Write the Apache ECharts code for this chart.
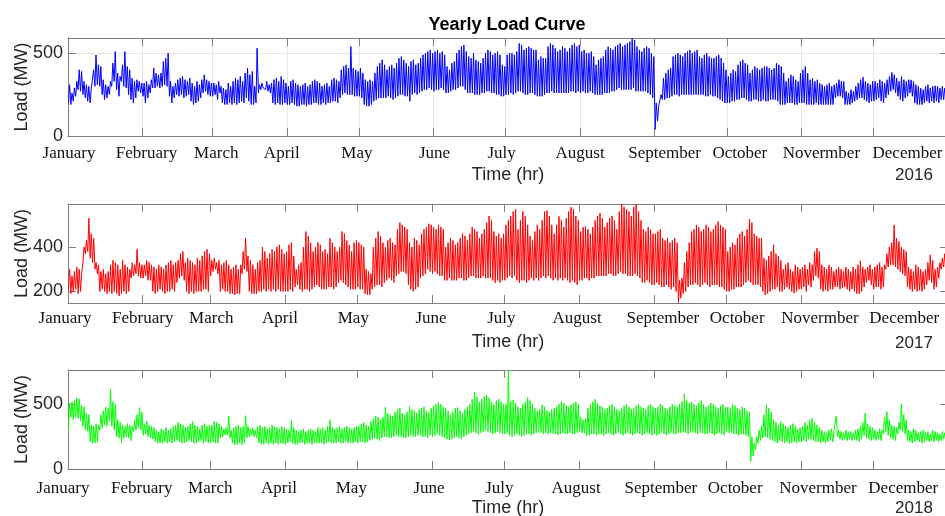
<!DOCTYPE html>
<html><head><meta charset="utf-8">
<script src="https://cdn.jsdelivr.net/npm/echarts@6/dist/echarts.min.js"></script>
<style>html,body{margin:0;padding:0;background:#fff}#c{width:945px;height:516px}</style>
</head><body><div id="c"></div>
<script>
// ---------------- DATA (daily peak / daily minimum load, MW) ----------------
const monthNames = ['January','February','March','April','May','June','July','August','September','October','Novermber','December'];
const yearLabels = ['2016','2017','2018'];
const monthDays2016 = [31,29,31,30,31,30,31,31,30,31,30,31];
const monthDays2017 = [31,28,31,30,31,30,31,31,30,31,30,31];
const monthDays2018 = [31,28,31,30,31,30,31,31,30,31,30,31];

const peak2016 = [
 310,260,290,330,400, 390,330,310,300,280, 400,490,430,420,340, 310,300,330,440,510, 380,360,430,510,420, 400,350,330,340,330, 320,
 320,330,310,340,410, 380,370,380,450,470, 500,330,300,320,340, 350,360,340,330,350, 320,300,330,310,340, 370,340,330,320,
 320,310,330,300,290, 280,320,300,330,350, 340,360,330,380,410, 370,390,300,530,310, 320,300,330,310,320, 340,350,330,360,340, 320,
 300,330,340,320,310, 300,310,320,300,310, 330,340,330,320,300, 310,320,300,340,350, 340,330,400,420,430, 410,540,410,400,390,
 410,380,340,330,340, 330,380,420,440,460, 430,400,420,430,410, 440,470,480,460,440, 420,450,460,430,440, 470,490,500,510,520, 500,
 510,520,500,510,490, 420,400,440,450,500, 520,540,550,510,480, 470,500,460,450,440, 470,500,520,510,490, 500,510,490,430,420,
 490,500,500,490,510, 560,550,520,530,540, 530,520,520,460,480, 470,470,540,560,550, 530,510,520,540,530, 510,530,550,560,540, 550,
 510,520,500,500,510, 480,430,460,470,480, 520,540,530,520,540, 550,560,540,550,560, 570,590,580,540,520, 510,530,540,530,500, 480,
 200,180,250,350,380, 400,410,480,490,500, 490,480,500,510,520, 500,510,520,480,470, 490,500,480,470,470, 480,490,470,440,400,
 360,380,400,390,430, 450,460,440,430,380, 400,420,410,400,410, 420,420,410,400,410, 440,430,420,380,330, 350,370,360,340,330, 380,
 400,420,380,340,350, 330,340,320,310,300, 310,320,300,310,320, 340,330,330,270,260, 280,270,300,320,340, 355,330,320,310,330,
 330,320,340,330,320, 340,360,384,370,350, 330,360,340,330,340, 339,330,310,300,290, 280,300,310,290,300, 303,300,290,300,290, 300
];
const low2016 = [
 200,190,210,240,280, 270,250,230,210,200, 280,300,310,300,250, 220,230,250,300,330, 280,240,330,300,290, 250,220,200,230,270, 260,
 240,200,230,260,290, 290,300,290,300,310, 300,240,200,230,250, 240,250,230,240,250, 210,190,200,210,230, 260,270,250,240,
 240,250,220,260,200, 190,190,200,190,200, 190,200,210,200,230, 210,190,190,200,260, 280,290,280,270,260, 200,190,200,190,190, 200,
 190,190,200,190,180, 180,190,190,180,190, 190,200,200,190,190, 200,190,200,200,210, 210,200,230,250,260, 250,250,250,240,240,
 240,230,190,180,180, 190,210,220,230,230, 230,230,240,230,220, 230,240,250,250,240, 240,210,250,260,250, 260,270,280,280,290, 280,
 270,280,280,290,280, 260,260,270,280,280, 290,300,300,280,260, 260,260,250,250,250, 260,260,270,270,260, 260,250,250,240,240,
 250,250,260,250,260, 270,270,260,250,250, 260,260,250,240,240, 240,250,260,260,270, 260,260,260,260,260, 260,260,270,270,260, 270,
 260,270,260,260,270, 260,250,250,250,250, 260,260,260,270,270, 280,290,280,280,280, 280,280,290,270,270, 270,270,270,260,250, 230,
 40,90,180,220,220, 230,230,240,250,250, 240,250,250,250,250, 250,250,250,250,250, 250,240,240,250,240, 240,230,220,210,200,
 200,200,210,210,220, 220,230,230,220,210, 210,220,220,210,210, 220,210,210,220,220, 220,210,190,190,190, 200,200,200,190,190, 200,
 200,200,190,190,190, 190,200,190,190,190, 190,190,190,190,230, 240,240,230,190,190, 190,200,210,220,230, 230,220,210,200,210,
 210,220,230,210,200, 230,250,270,280,260, 240,220,210,230,240, 260,240,200,190,190, 190,200,210,200,210, 200,210,200,220,220, 240
];

const peak2017 = [
 300,270,290,310,300, 280,400,430,530,460, 440,330,320,290,300, 280,290,320,340,330, 320,300,340,320,310, 300,330,320,390,330, 320,
 320,340,330,320,310, 300,320,310,300,320, 330,340,320,330,340, 370,380,330,350,340, 330,320,350,340,360, 380,390,370,
 340,350,330,340,320, 330,340,320,300,310, 320,300,320,380,440, 360,340,320,300,330, 340,400,380,350,370, 390,380,400,410,390, 370,
 380,410,420,360,300, 320,330,400,470,450, 420,380,400,420,410, 380,390,370,440,420, 400,380,400,470,460, 430,410,380,420,430,
 420,410,400,300,290, 280,400,440,470,450, 420,400,430,440,420, 410,480,510,500,490, 480,420,400,440,430, 410,460,480,490,505, 500,
 490,480,500,490,480, 400,420,440,430,410, 420,440,460,450,430, 460,490,480,470,440, 460,480,510,540,520, 470,450,460,440,460,
 500,520,540,560,571, 480,520,561,540,500, 450,430,470,500,480, 520,560,564,540,500, 460,500,538,520,490, 530,560,580,570,540, 520,
 470,490,493,480,460, 490,520,540,553,530, 490,510,530,540,520, 480,560,594,580,570, 560,540,580,591,560, 520,480,470,490,478, 460,
 460,470,480,440,430, 440,420,430,440,420, 250,260,330,380,420, 470,480,500,490,470, 480,500,490,470,480, 500,515,500,490,480,
 380,400,420,410,440, 460,470,450,480,526, 510,460,450,440,440, 350,340,360,380,410, 370,360,340,300,320, 330,300,290,320,310, 300,
 310,320,300,330,320, 380,395,380,320,310, 300,320,310,290,300, 310,300,290,310,300, 290,310,300,320,338, 310,300,310,320,300,
 310,320,330,310,320, 370,400,420,500,440, 425,400,390,380,310, 300,290,320,310,300, 290,300,330,365,340, 300,310,330,350,370, 360
];
const low2017 = [
 210,190,200,210,190, 200,330,370,380,350, 330,300,280,200,210, 200,190,200,190,200, 190,180,190,200,190, 200,260,270,280,270, 260,
 260,270,250,250,200, 190,200,210,200,190, 200,200,210,200,240, 260,270,250,200,190, 200,190,200,200,200, 210,210,200,
 270,290,300,280,200, 210,200,200,190,190, 185,190,190,280,300, 290,200,190,190,190, 200,200,210,200,210, 200,210,200,210,200, 200,
 200,200,210,200,220, 230,210,200,210,210, 200,210,220,230,220, 210,210,210,220,220, 210,220,240,250,240, 230,220,210,210,210,
 220,210,210,190,185, 185,210,220,230,230, 220,240,250,260,250, 240,270,280,290,290, 280,230,210,200,210, 220,260,270,280,300, 290,
 280,290,280,270,270, 250,250,260,250,250, 250,260,260,250,250, 260,270,270,260,260, 260,270,260,260,260, 250,240,250,240,250,
 250,260,270,260,270, 250,240,250,250,240, 250,260,250,260,250, 260,270,260,270,260, 250,260,250,260,250, 260,250,240,250,240, 230,
 250,250,260,260,250, 260,260,270,270,270, 270,270,280,280,270, 270,280,290,280,280, 270,270,270,280,270, 260,240,240,250,240, 230,
 230,240,230,220,220, 230,220,210,220,200, 150,170,190,200,220, 230,230,240,230,220, 230,240,230,220,230, 230,230,220,220,210,
 200,200,210,210,220, 220,220,230,240,250, 240,230,230,230,220, 200,185,190,200,210, 210,220,200,200,210, 220,210,200,192,200, 210,
 210,220,200,230,220, 250,270,260,210,200, 207,200,210,210,220, 220,210,215,220,210, 200,210,200,190,190, 200,220,240,250,230,
 210,220,220,210,220, 300,310,320,320,310, 300,290,280,270,220, 210,200,210,200,205, 200,210,230,250,240, 210,220,260,300,310, 300
];

const peak2018 = [
 510,520,530,550,540, 490,480,430,420,340, 330,350,340,420,450, 480,470,616,520,500, 380,360,340,330,350, 340,330,380,420,474, 440,
 350,370,340,330,320, 300,290,310,300,320, 300,310,330,340,360, 350,340,320,330,350, 366,340,330,310,340, 350,330,340,
 340,370,360,350,330, 310,320,410,300,320, 330,340,320,330,412, 330,310,320,300,330, 340,320,330,310,320, 340,330,320,310,330, 320,
 310,300,379,320,300, 290,300,310,290,300, 310,300,290,320,310, 320,300,330,380,320, 310,320,330,310,320, 330,320,310,320,330,
 330,350,360,340,330, 370,390,410,400,380, 400,477,430,420,410, 440,460,470,430,420, 440,482,460,450,430, 460,470,480,450,440, 470,
 490,500,515,500,480, 470,450,420,440,470, 474,450,430,460,480, 500,540,593,560,520, 540,560,572,550,520, 500,530,540,520,500,
 500,765,520,533,510, 480,470,500,520,551, 530,500,470,450,460, 495,480,450,440,460, 470,480,500,520,510, 490,480,500,510,520, 500,
 400,380,390,470,500, 520,539,510,490,480, 460,470,490,500,480, 460,450,470,490,500, 480,460,470,490,500, 480,470,460,490,500, 480,
 470,480,500,490,470, 460,480,500,490,480, 500,520,577,530,510, 520,500,490,510,530, 500,480,490,510,500, 480,470,490,500,480,
 480,470,500,490,470, 460,480,470,450,440, 250,200,250,300,330, 420,495,470,440,380, 360,340,366,350,330, 320,340,350,330,310, 320,
 330,360,340,380,392, 360,340,320,300,290, 280,300,310,290,410, 300,290,280,300,289, 290,280,300,310,330, 360,430,350,330,320,
 300,290,310,300,400, 443,380,340,330,320, 360,500,420,380,300, 290,310,300,280,290, 300,280,290,270,300, 290,280,270,290,280, 270
];
const low2018 = [
 300,400,380,400,390, 370,330,300,290,210, 200,200,210,300,320, 340,330,370,330,300, 250,240,200,240,250, 240,220,290,300,320, 300,
 260,270,250,240,230, 210,200,200,198,210, 200,210,200,210,220, 210,200,200,210,220, 210,200,200,210,220, 200,210,200,
 200,210,200,200,240, 250,263,260,240,200, 186,190,200,190,200, 240,250,260,250,240, 200,190,191,200,190, 200,190,200,190,200, 195,
 190,200,210,200,190, 190,200,200,190,200, 200,190,200,200,200, 200,190,200,210,200, 200,200,210,200,200, 210,200,200,200,210,
 200,210,210,200,210, 220,230,240,230,220, 240,250,250,240,240, 250,260,250,250,240, 240,250,260,250,250, 260,260,250,250,240, 260,
 250,260,270,260,250, 240,230,224,230,240, 250,240,230,250,260, 270,280,290,280,270, 280,290,300,290,280, 270,280,290,280,270,
 270,280,260,250,260, 270,260,250,260,270, 270,260,270,280,290, 280,270,280,270,280, 270,270,263,270,280, 270,270,280,270,270, 280,
 290,280,280,260,260, 270,270,260,270,270, 260,270,280,270,260, 270,280,270,260,270, 280,270,260,270,280, 270,260,270,280,270, 260,
 270,260,270,280,270, 260,270,280,270,270, 280,280,290,280,270, 280,290,280,270,280, 280,270,270,280,270, 260,270,280,270,260,
 290,280,280,270,270, 260,270,270,260,250, 60,100,150,200,220, 240,250,240,230,220, 210,200,220,210,200, 210,198,200,210,200, 210,
 210,220,210,230,230, 220,210,210,200,210, 200,210,220,210,280, 250,230,220,230,220, 230,220,230,220,210, 230,260,240,230,220,
 230,220,230,220,270, 290,260,240,230,220, 270,300,290,270,220, 210,200,210,220,210, 200,210,220,210,220, 210,220,210,220,230, 220
];

// y-axis ranges and tick values of each panel
const yRanges = [[0, 592], [148, 594], [0, 765]];
const yTickValues = [[0, 500], [200, 400], [0, 500]];

// ---------------- LAYOUT ----------------
const AXIS = '#808080', TEXT = '#262626';
const panels = [
  {peaks: peak2016, lows: low2016, months: monthDays2016, color: '#0000ff', top: 38, height: 98, grid: true,  labelMargin: 9,
   labelShift: [1,4,4,-5,-2,1,-4,0,10,13,20,34], yearTop: 167},
  {peaks: peak2017, lows: low2017, months: monthDays2017, color: '#ff0000', top: 204, height: 99, grid: false, labelMargin: 7,
   labelShift: [-3,0,1,-5,-4,-1,-3,-2,9,11,19,31], yearTop: 335},
  {peaks: peak2018, lows: low2018, months: monthDays2018, color: '#00ff00', top: 370, height: 99, grid: false, labelMargin: 11,
   labelShift: [-5,-1,0,-6,-6,-3,-5,-3,7,9,17,30], yearTop: 500}
];

function monthStarts(days) { const s = []; let acc = 0; for (const d of days) { s.push(acc); acc += d; } return s; }
function buildLine(peaks, lows) {
  const out = [];
  for (let d = 0; d < peaks.length; d++) { out.push([d + 0.2, lows[d]]); out.push([d + 0.65, peaks[d]]); }
  return out;
}

const grids = [], xAxes = [], yAxes = [], series = [];
const titles = [{
  text: 'Yearly Load Curve', left: 507, top: 16, textAlign: 'center', padding: 0,
  textStyle: {fontFamily: 'Liberation Sans, Arial, sans-serif', fontSize: 18, fontWeight: 'bold', color: '#000'}
}];

panels.forEach((p, i) => {
  const nDays = p.months.reduce((a, b) => a + b, 0);
  const starts = monthStarts(p.months);
  grids.push({left: 68, top: p.top, width: 880, height: p.height, show: false, containLabel: false, outerBoundsMode: 'none'});
  const rich = {};
  monthNames.forEach((m, k) => {
    const off = p.labelShift[k];
    rich['m' + k] = {fontFamily: 'Liberation Serif, Times New Roman, serif', fontSize: 17, color: '#111',
      padding: off >= 0 ? [0, 0, 0, 2 * off] : [0, -2 * off, 0, 0]};
  });
  xAxes.push({
    gridIndex: i, type: 'value', min: 0, max: nDays, position: 'bottom',
    axisLine: {show: true, onZero: false, lineStyle: {color: AXIS, width: 1}},
    axisTick: {show: true, inside: true, length: 8, customValues: starts, lineStyle: {color: AXIS}},
    axisLabel: {show: true, customValues: starts, margin: p.labelMargin, hideOverlap: false,
      formatter: (v) => { let k = 0, best = 1e9; starts.forEach((s, j) => { if (Math.abs(s - v) < best) { best = Math.abs(s - v); k = j; } });
        return '{m' + k + '|' + monthNames[k] + '}'; }, rich: rich},
    splitLine: {show: p.grid, lineStyle: {color: '#e6e6e6', width: 1}},
    name: 'Time (hr)', nameLocation: 'middle', nameGap: 30, nameMoveOverlap: false,
    nameTextStyle: {fontFamily: 'Liberation Sans, Arial, sans-serif', fontSize: 18, color: TEXT}
  });
  xAxes.push({
    gridIndex: i, type: 'value', min: 0, max: nDays, position: 'top',
    axisLine: {show: true, onZero: false, lineStyle: {color: AXIS, width: 1}},
    axisTick: {show: true, inside: true, length: 8, customValues: starts, lineStyle: {color: AXIS}},
    axisLabel: {show: false}, splitLine: {show: false}
  });
  yAxes.push({
    gridIndex: i, type: 'value', min: yRanges[i][0], max: yRanges[i][1], position: 'left',
    axisLine: {show: true, onZero: false, lineStyle: {color: AXIS, width: 1}},
    axisTick: {show: true, inside: true, length: 8, customValues: yTickValues[i], lineStyle: {color: AXIS}},
    axisLabel: {show: true, customValues: yTickValues[i], margin: 5,
      fontFamily: 'Liberation Sans, Arial, sans-serif', fontSize: 18, color: TEXT},
    splitLine: {show: p.grid, lineStyle: {color: '#e6e6e6', width: 1}},
    name: 'Load (MW)', nameLocation: 'middle', nameGap: 37, nameMoveOverlap: false,
    nameTextStyle: {fontFamily: 'Liberation Sans, Arial, sans-serif', fontSize: 18, color: TEXT}
  });
  yAxes.push({
    gridIndex: i, type: 'value', min: yRanges[i][0], max: yRanges[i][1], position: 'right',
    axisLine: {show: true, onZero: false, lineStyle: {color: AXIS, width: 1}},
    axisTick: {show: true, inside: true, length: 8, customValues: yTickValues[i], lineStyle: {color: AXIS}},
    axisLabel: {show: false}, splitLine: {show: false}
  });
  series.push({
    type: 'line', xAxisIndex: 2 * i, yAxisIndex: 2 * i, data: buildLine(p.peaks, p.lows),
    showSymbol: false, symbol: 'none', lineStyle: {color: p.color, width: 1}, itemStyle: {color: p.color},
    animation: false, silent: true
  });
  titles.push({
    text: yearLabels[i], left: 914, top: p.yearTop, textAlign: 'center', padding: 0,
    textStyle: {fontFamily: 'Liberation Sans, Arial, sans-serif', fontSize: 17, fontWeight: 'normal', color: TEXT}
  });
});

const chart = echarts.init(document.getElementById('c'), null, {renderer: 'canvas'});
chart.setOption({
  animation: false, backgroundColor: '#fff',
  title: titles, grid: grids, xAxis: xAxes, yAxis: yAxes, series: series
});
</script></body></html>
